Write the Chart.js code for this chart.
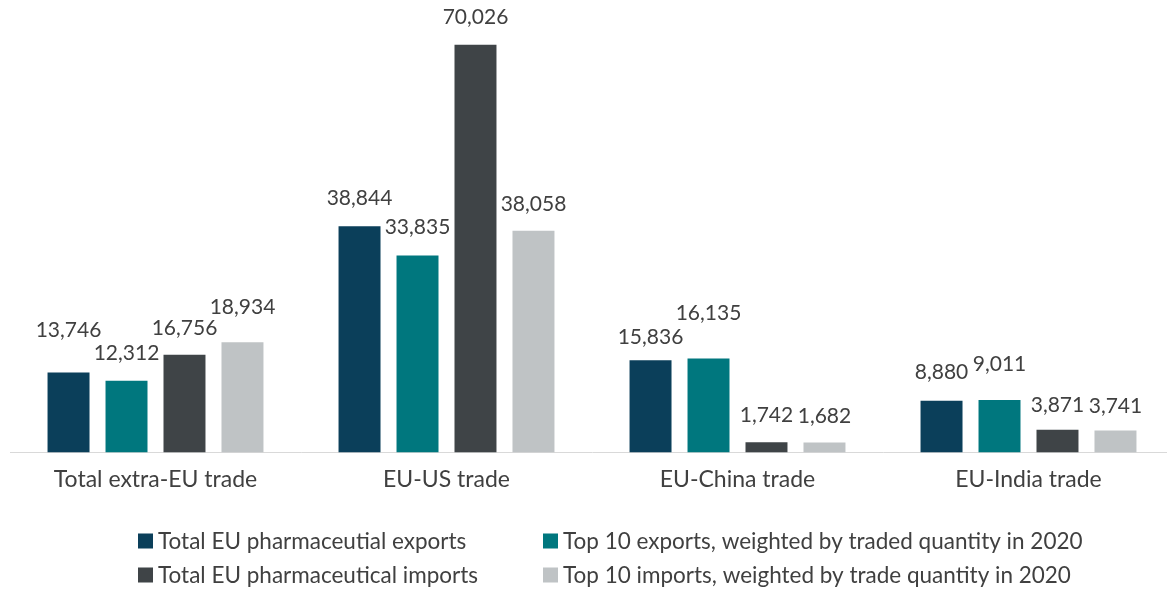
<!DOCTYPE html>
<html>
<head>
<meta charset="utf-8">
<script src="https://cdn.jsdelivr.net/npm/chart.js@4.4.1/dist/chart.umd.min.js"></script>
<style>
  html, body { margin: 0; padding: 0; background: #ffffff; overflow: hidden; }
  #wrap { position: absolute; left: 0; top: 0; width: 1175px; height: 589px; }
</style>
</head>
<body>
<div id="wrap"><canvas id="c" width="1175" height="589"></canvas></div>
<script>
const categories = ["Total extra-EU trade", "EU-US trade", "EU-China trade", "EU-India trade"];
const seriesNames = [
  "Total EU pharmaceutial exports",
  "Top 10 exports, weighted by traded quantity in 2020",
  "Total EU pharmaceutical imports",
  "Top 10 imports, weighted by trade quantity in 2020"
];
const totalExports = [13746, 38844, 15836, 8880];
const top10Exports = [12312, 33835, 16135, 9011];
const totalImports = [16756, 70026, 1742, 3871];
const top10Imports = [18934, 38058, 1682, 3741];

const colors = ["#0B3F5A", "#00777E", "#3F4447", "#BFC3C5"];
// vertical distance (px) from bar top to label centre, as placed in the original
const labelOffsets = [
  [42, 28, 23, 28],
  [27, 28, 45, 36],
  [27, 28, 27, 25],
  [35, 27, 26, 24]
];
const FONT = "Lato";
const TEXT = "#404040";

const values = [totalExports, top10Exports, totalImports, top10Imports];

const labelPlugin = {
  id: 'barLabels',
  afterDatasetsDraw(chart) {
    const ctx = chart.ctx;
    ctx.save();
    ctx.font = "21px " + FONT;
    ctx.fillStyle = TEXT;
    ctx.textAlign = "center";
    ctx.textBaseline = "middle";
    chart.data.datasets.forEach((ds, di) => {
      const meta = chart.getDatasetMeta(di);
      meta.data.forEach((bar, i) => {
        const v = ds.data[i];
        ctx.fillText(v.toLocaleString('en-US'), bar.x, bar.y - labelOffsets[di][i]);
      });
    });
    ctx.restore();
  }
};

// two-column legend drawn from the chart's datasets
const legendPlugin = {
  id: 'gridLegend',
  afterDraw(chart) {
    const ctx = chart.ctx;
    const colX = [138, 543];
    const rowY = [541, 575];
    ctx.save();
    ctx.font = "22.5px " + FONT;
    ctx.textAlign = "left";
    ctx.textBaseline = "middle";
    chart.data.datasets.forEach((ds, i) => {
      const x = colX[i % 2];
      const y = rowY[Math.floor(i / 2)];
      ctx.fillStyle = ds.backgroundColor;
      ctx.fillRect(x, y - 7.5, 15, 15);
      ctx.fillStyle = TEXT;
      ctx.fillText(ds.label, x + 20, y + 1);
    });
    ctx.restore();
  }
};

new Chart(document.getElementById('c'), {
  type: 'bar',
  data: {
    labels: categories,
    datasets: values.map((d, i) => ({
      label: seriesNames[i],
      data: d,
      backgroundColor: colors[i],
      borderWidth: 0,
      categoryPercentage: 0.797,
      barPercentage: 0.724
    }))
  },
  options: {
    responsive: false,
    animation: false,
    devicePixelRatio: 1,
    layout: { padding: { left: 10, right: 1, top: 10, bottom: 83 } },
    scales: {
      x: {
        grid: { display: false, drawTicks: false },
        border: { display: true, color: "#D9D9D9", width: 1 },
        ticks: { color: TEXT, font: { family: FONT, size: 23 }, padding: 13 }
      },
      y: {
        display: false,
        min: 0,
        max: 76000
      }
    },
    plugins: {
      legend: { display: false },
      tooltip: { enabled: false }
    }
  },
  plugins: [labelPlugin, legendPlugin]
});
</script>
</body>
</html>
